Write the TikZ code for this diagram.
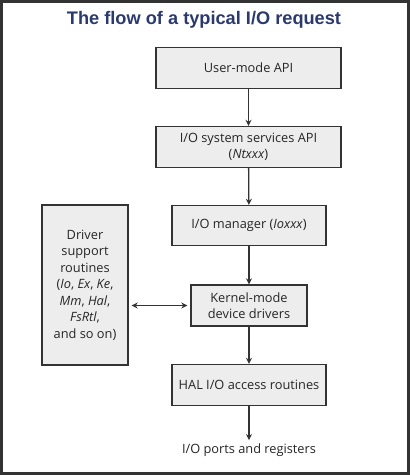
\documentclass[tikz,border=0pt]{standalone}
\usepackage{fontspec}
\setmainfont{Open Sans}
\newfontfamily\titlefont{Liberation Sans}
\usetikzlibrary{arrows.meta,positioning}
\definecolor{titleblue}{HTML}{2B3A6E}
\definecolor{boxgray}{HTML}{EDEDED}
\definecolor{linegray}{HTML}{333333}
\tikzset{
stage/.style={draw=linegray, line width=1.4pt, fill=boxgray, align=center, inner sep=0pt},
arr/.style={-{Stealth[length=6pt,width=6pt]}, line width=1.3pt, draw=linegray},
darr/.style={{Stealth[length=6pt,width=6pt]}-{Stealth[length=6pt,width=6pt]}, line width=1.3pt, draw=linegray, shorten <=3pt, shorten >=3pt},
}
\tikzstyle{every node}=[font=\fontsize{12.8}{16.5}\selectfont, text=black!85]

\begin{document}
\begin{tikzpicture}[x=1pt, y=-1pt]
    \useasboundingbox (0,0) rectangle (410,475);
    \draw[line width=3pt, draw=black!80] (1.5,1.5) rectangle (408.5,473.5);

    \node[font=\titlefont\bfseries\fontsize{18.2}{20}\selectfont, text=titleblue] (title) at (204,20) {The flow of a typical I/O request};

    \node[stage, minimum width=185pt, minimum height=41pt] (user) at (248.5,68) {User-mode API};
    \node[stage, minimum width=185pt, minimum height=41pt] (sys) at (248.5,147) {I/O system services API\\(\textit{Ntxxx})};
    \node[stage, minimum width=154pt, minimum height=40pt] (mgr) at (249,225.5) {I/O manager (\textit{Ioxxx})};
    \node[stage, minimum width=116pt, minimum height=41pt] (kern) at (249,305.5) {Kernel-mode\\device drivers};
    \node[stage, minimum width=154pt, minimum height=41pt] (hal) at (249,385) {HAL I/O access routines};
    \node (ports) at (249,450) {I/O ports and registers};

    \node[stage, minimum width=86pt, minimum height=160pt] (drv) at (85,285) {Driver\\support\\routines\\(\textit{Io}, \textit{Ex}, \textit{Ke},\\\textit{Mm}, \textit{Hal},\\\textit{FsRtl},\\and so on)};

    \draw[arr] (user) -- (sys);
    \draw[arr] (sys) -- (mgr);
    \draw[arr] (mgr) -- (kern);
    \draw[arr] (kern) -- (hal);
    \draw[arr] (hal) -- (ports);
    \draw[darr] (drv.east |- kern.west) -- (kern.west);
\end{tikzpicture}
\end{document}
